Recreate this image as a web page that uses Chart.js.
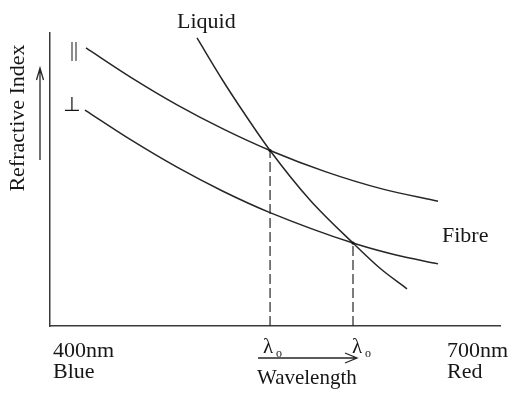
<!DOCTYPE html>
<html>
<head>
<meta charset="utf-8">
<script src="https://cdn.jsdelivr.net/npm/chart.js@4/dist/chart.umd.min.js"></script>
<style>
  html, body { margin: 0; padding: 0; background: #ffffff; }
  #wrap { width: 509px; height: 394px; position: relative; }
</style>
</head>
<body>
<div id="wrap"><canvas id="c"></canvas></div>
<script>
// ---- data (x = wavelength in nm, y = relative refractive index, arbitrary units) ----
const parallelNm   = [424, 454.7, 485.3, 516, 546.7, 584, 621.3, 658.7];
const parallelIdx  = [94.9, 84.6, 75.3, 67.1, 59.9, 52.6, 46.8, 42.6];

const perpNm       = [423.3, 454, 484.7, 515.3, 546.7, 602, 630, 658.7];
const perpIdx      = [73.7, 63.5, 54.2, 46.0, 38.7, 28.3, 24.3, 21.2];

const liquidNm     = [498, 515.3, 528.7, 546.7, 573.3, 602, 620, 638];
const liquidIdx    = [98.3, 83.7, 73.2, 59.9, 43.0, 28.3, 19.7, 12.7];

const lambdaNm     = [546.7, 602];        // crossing wavelengths (λo)
const lambdaIdx    = [59.9, 28.3];

const xRange       = [400, 700];
const xEndLabels   = [["400nm", "Blue"], ["700nm", "Red"]];

const toPts = (xs, ys) => xs.map((x, i) => ({ x: x, y: ys[i] }));

const INK = '#262626';
const TXT = '#161616';
const FONT = 'Liberation Serif';

const lineStyle = {
  borderColor: INK, borderWidth: 1.5, pointRadius: 0,
  fill: false, cubicInterpolationMode: 'monotone'
};

const datasets = [
  Object.assign({ label: 'parallel', data: toPts(parallelNm, parallelIdx) }, lineStyle),
  Object.assign({ label: 'perpendicular', data: toPts(perpNm, perpIdx) }, lineStyle),
  Object.assign({ label: 'Liquid', data: toPts(liquidNm, liquidIdx) }, lineStyle)
];
lambdaNm.forEach((nm, i) => {
  datasets.push({
    label: 'drop' + i,
    data: [{ x: nm, y: 0 }, { x: nm, y: lambdaIdx[i] }],
    borderColor: INK, borderWidth: 1.2, borderDash: [10, 4],
    pointRadius: 0, fill: false, tension: 0
  });
});

function txt(ctx, s, x, y, size, align, family) {
  ctx.font = size + 'px "' + (family || FONT) + '"';
  ctx.textAlign = align || 'left';
  ctx.textBaseline = 'alphabetic';
  ctx.fillText(s, x, y);
}

const annot = {
  id: 'annot',
  afterDraw(chart) {
    const ctx = chart.ctx;
    const xs = chart.scales.x, ys = chart.scales.y;
    ctx.save();
    ctx.fillStyle = TXT;
    ctx.strokeStyle = INK;

    // end labels of the wavelength axis
    const x0 = xs.getPixelForValue(xRange[0]);
    const x1 = xs.getPixelForValue(xRange[1]);
    txt(ctx, xEndLabels[0][0], x0 + 3, 357, 22);
    txt(ctx, xEndLabels[0][1], x0 + 3, 378, 22);
    txt(ctx, xEndLabels[1][0], x1 - 53, 357, 22);
    txt(ctx, xEndLabels[1][1], x1 - 53, 378, 22);

    // lambda_o labels
    const lx = [xs.getPixelForValue(lambdaNm[0]) - 7, xs.getPixelForValue(lambdaNm[1]) - 1];
    lx.forEach(px => {
      txt(ctx, 'λ', px, 353, 21);
      txt(ctx, 'o', px + 13, 357, 12);
    });

    // wavelength arrow + label
    ctx.lineWidth = 1.3;
    ctx.beginPath();
    ctx.moveTo(258, 358); ctx.lineTo(357, 358);
    ctx.moveTo(345, 353); ctx.lineTo(357, 358); ctx.lineTo(345, 363);
    ctx.stroke();
    txt(ctx, 'Wavelength', 257, 384, 21);

    // refractive index title + arrow
    ctx.save();
    ctx.translate(24, 118);
    ctx.rotate(-Math.PI / 2);
    txt(ctx, 'Refractive Index', 0, 0, 22, 'center');
    ctx.restore();
    ctx.beginPath();
    ctx.moveTo(40, 160); ctx.lineTo(40, 68);
    ctx.moveTo(36.5, 80); ctx.lineTo(40, 68); ctx.lineTo(43.5, 80);
    ctx.stroke();

    // curve labels
    txt(ctx, '||', 70, 56, 20);
    txt(ctx, '⊥', 63, 111, 20, 'left', 'DejaVu Sans');
    txt(ctx, 'Liquid', 177, 28, 22);
    txt(ctx, 'Fibre', 442, 242, 22);

    // crossing dots
    lambdaNm.forEach((nm, i) => {
      ctx.beginPath();
      ctx.arc(xs.getPixelForValue(nm), ys.getPixelForValue(lambdaIdx[i]), 1.6, 0, Math.PI * 2);
      ctx.fill();
    });
    ctx.restore();
  }
};

new Chart(document.getElementById('c'), {
  type: 'line',
  data: { datasets: datasets },
  options: {
    responsive: true,
    maintainAspectRatio: false,
    animation: false,
    events: [],
    layout: { padding: { left: 50, right: 9, top: 33, bottom: 68 } },
    plugins: { legend: { display: false }, tooltip: { enabled: false } },
    scales: {
      x: {
        type: 'linear', min: xRange[0], max: xRange[1],
        grid: { display: false, drawTicks: false },
        border: { display: true, color: '#3a3a3a', width: 1.5 },
        ticks: { display: false },
        afterFit: s => { s.height = 0; }
      },
      y: {
        type: 'linear', min: 0, max: 100,
        grid: { display: false, drawTicks: false },
        border: { display: true, color: '#3a3a3a', width: 1.5 },
        ticks: { display: false },
        afterFit: s => { s.width = 0; }
      }
    }
  },
  plugins: [annot]
});
</script>
</body>
</html>
